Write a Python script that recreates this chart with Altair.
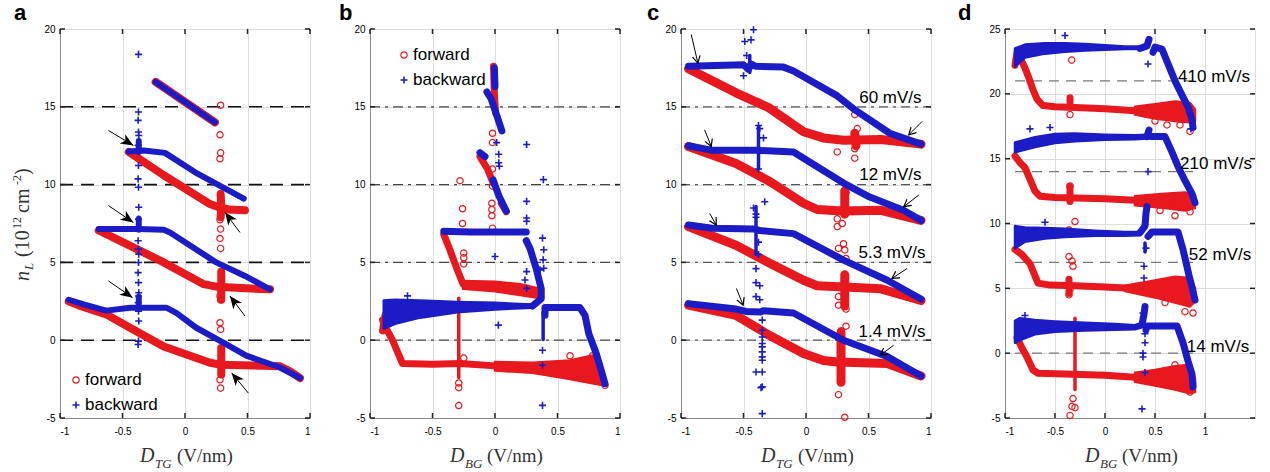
import math
import altair as alt
import pandas as pd

RED = "#e8191e"
BLUE = "#1c1cc6"
SERIF = "Liberation Serif"
SANS = "Liberation Sans"
W, H = 250, 389
PLUS = "M-1,0H1M0,-1V1"
HEAD_FILLED = "M0,0L-0.42,1L0,0.72L0.42,1Z"
HEAD_OPEN = "M-0.55,1L0,0L0.55,1"

X_TICKS = [-1, -0.5, 0, 0.5, 1]
Y_TICKS_ABC = [-5, 0, 5, 10, 15, 20]
Y_TICKS_D = [-5, 0, 5, 10, 15, 20, 25]

# ---------------- panel a ----------------
A_RED = {
    "top": [(-0.235, 16.6), (0.24, 14.0)],
    "l3": [(-0.45, 12.1), (-0.17, 10.6), (0.2, 8.75), (0.27, 8.55), (0.35, 8.4), (0.48, 8.35)],
    "l3s": [(0.285, 9.4), (0.29, 8.6), (0.285, 7.9)],
    "l2": [(-0.69, 7.05), (-0.6, 6.7), (-0.17, 5.0), (0.15, 3.6), (0.25, 3.44), (0.45, 3.35), (0.68, 3.27)],
    "l2s": [(0.29, 4.4), (0.29, 2.6)],
    "l1": [(-0.93, 2.5), (-0.85, 2.24), (-0.63, 1.66), (-0.44, 0.8), (-0.17, -0.4), (0.2, -1.45),
           (0.28, -1.57), (0.55, -1.62), (0.76, -1.68), (0.84, -2.0), (0.92, -2.43)],
    "l1s": [(0.29, -0.5), (0.29, -2.2)],
}
A_BLUE = {
    "top": [(-0.235, 16.6), (0.24, 14.0)],
    "l3": [(-0.45, 12.13), (-0.33, 12.19), (-0.16, 12.04), (0.1, 10.7), (0.47, 9.1)],
    "l3s": [(-0.37, 12.1), (-0.37, 12.8)],
    "l2": [(-0.69, 7.14), (-0.38, 7.14), (-0.17, 7.1), (-0.12, 6.92), (0.25, 5.0), (0.48, 4.13), (0.68, 3.27)],
    "l2s": [(-0.37, 7.1), (-0.37, 7.8)],
    "l1": [(-0.93, 2.6), (-0.81, 2.3), (-0.63, 1.9), (-0.44, 2.09), (-0.15, 2.09), (-0.07, 1.76),
           (0.09, 0.8), (0.31, -0.17), (0.49, -0.99), (0.75, -1.72), (0.92, -2.43)],
    "l1s": [(-0.37, 2.1), (-0.37, 2.8)],
}
A_RED_PTS = [(0.285, 15.1), (0.28, 13.2), (0.285, 12.04), (0.28, 11.66), (0.285, 8.0), (0.28, 7.74),
             (0.285, 7.14), (0.28, 6.54), (0.285, 5.9), (0.28, 2.84), (0.285, 2.6), (0.28, 1.12),
             (0.285, 0.69), (0.28, -2.54), (0.285, -3.08)]
A_BLUE_PTS = [(-0.372, 18.37), (-0.372, 14.67), (-0.375, 14.13), (-0.372, 13.38), (-0.37, 13.16),
              (-0.375, 12.52), (-0.372, 11.23), (-0.375, 10.37), (-0.372, 9.83), (-0.37, 8.54),
              (-0.372, 7.78), (-0.375, 6.39), (-0.372, 5.85), (-0.37, 5.53), (-0.372, 4.99),
              (-0.375, 4.34), (-0.372, 3.70), (-0.37, 3.05), (-0.372, 2.84), (-0.375, 2.41),
              (-0.372, 1.87), (-0.37, 1.23), (-0.372, -0.06), (-0.375, -0.28)]
A_ARROWS = [(-0.613, 13.48, -0.413, 12.52), (0.44, 6.92, 0.32, 8.22), (-0.613, 8.65, -0.413, 7.57),
            (0.48, 1.55, 0.36, 2.84), (-0.613, 3.81, -0.419, 2.73), (0.507, -3.4, 0.373, -2.1)]
A_HLINES = [15, 10, 5, 0]

# ---------------- panel b ----------------
B_RED = {
    "t1": [(-0.012, 17.6), (-0.008, 16.5), (-0.003, 15.5), (0.005, 14.6)],
    "m1": [(-0.12, 11.8), (-0.06, 11.0), (-0.015, 10.1)],
    "m2": [(0.05, 8.8), (0.09, 8.25)],
    "l2": [(-0.41, 6.8), (-0.37, 6.0), (-0.3, 4.5), (-0.255, 3.6)],
    "l1": [(-0.9, 1.3), (-0.86, 0.6), (-0.82, 0.0), (-0.74, -1.5), (-0.5, -1.55), (-0.28, -1.5),
           (0.0, -1.65), (0.3, -1.8)],
    "lc": [(-0.9, 0.6), (-0.88, 1.6)],
}
B_RED_THIN = {
    "s1": [(-0.29, 2.7), (-0.29, -2.4)],
}
B_RED_BANDS = {
    "l2": ([-0.255, 0.0, 0.2, 0.37], [3.3, 3.15, 2.9, 2.7], [3.8, 3.75, 3.6, 3.3]),
    "l1": ([0.0, 0.3, 0.6, 0.8, 0.87], [-1.95, -2.1, -2.5, -2.8, -2.9], [-1.4, -1.45, -1.3, -0.95, -2.2]),
}
B_RED_PTS = [(-0.28, 10.25), (-0.26, 8.45), (-0.26, 7.5), (-0.25, 5.6), (-0.25, 5.3), (-0.25, 4.9),
             (-0.02, 13.3), (-0.02, 12.7), (-0.02, 11.0), (-0.02, 9.9), (-0.025, 8.8), (-0.025, 8.4),
             (-0.025, 8.0), (-0.02, 7.2), (-0.29, -2.75), (-0.29, -3.05), (-0.29, -4.2),
             (0.6, -1.0), (0.78, -1.0), (-0.25, -1.15), (0.88, -2.9)]
B_BLUE = {
    "t1": [(-0.005, 17.5), (0.0, 16.3)],
    "t2": [(-0.065, 15.95), (-0.03, 15.5), (0.02, 14.3), (0.055, 13.45)],
    "m1": [(-0.12, 12.05), (-0.08, 11.8)],
    "m2": [(-0.015, 10.3), (0.03, 9.3), (0.09, 8.3)],
    "l2": [(-0.41, 7.0), (-0.2, 6.95), (0.0, 6.95), (0.25, 6.95)],
    "l2d": [(0.25, 6.4), (0.28, 5.9), (0.33, 4.6), (0.37, 3.3), (0.37, 2.7)],
    "l1e": [(0.3, 2.2), (0.36, 2.6)],
    "l1r": [(0.4, 1.6), (0.4, 2.1), (0.68, 2.1), (0.72, 1.6), (0.75, 0.43), (0.81, -0.86),
            (0.85, -1.94), (0.88, -2.8)],
}
B_BLUE_THIN = {
    "v1": [(0.385, 1.8), (0.385, 0.05)],
}
B_BLUE_BANDS = {
    "l1": ([-0.89, -0.8, -0.6, -0.3, 0.0, 0.3], [0.75, 1.05, 1.45, 1.8, 1.98, 2.08], [2.55, 2.6, 2.55, 2.45, 2.4, 2.3]),
}
B_BLUE_PTS = [(0.013, 12.7), (0.03, 11.95), (0.03, 11.4), (0.035, 11.18), (0.253, 12.58), (0.387, 10.32),
              (0.253, 8.92), (0.253, 7.85), (0.253, 7.64), (0.0, 5.38), (0.027, 0.97), (0.38, 6.56),
              (0.39, 5.81), (0.385, 5.16), (0.39, 4.62), (0.36, 4.52), (0.253, 4.41), (0.24, 3.87),
              (0.253, 3.33), (0.38, -0.65), (0.38, -1.61), (0.38, -4.19), (-0.7, 2.85)]
B_HLINES = [15, 10, 5, 0]

# ---------------- panel c ----------------
C_RED = {
    "r60": [(-0.94, 17.45), (-0.56, 15.9), (-0.3, 14.95), (-0.02, 13.4), (0.14, 13.0), (0.3, 12.85),
            (0.6, 12.9), (0.92, 12.6)],
    "r12": [(-0.94, 12.45), (-0.56, 11.35), (-0.29, 10.2), (-0.02, 8.8), (0.09, 8.4), (0.3, 8.3),
            (0.6, 8.35), (0.92, 7.7)],
    "r5": [(-0.94, 7.3), (-0.56, 6.1), (-0.29, 4.95), (-0.02, 3.85), (0.09, 3.5), (0.35, 3.4),
           (0.6, 3.3), (0.92, 2.55)],
    "r1": [(-0.94, 2.25), (-0.56, 1.6), (-0.29, 0.3), (-0.02, -0.85), (0.14, -1.3), (0.25, -1.4),
           (0.65, -1.5), (0.92, -2.3)],
    "s60": [(0.39, 13.3), (0.4, 12.5)],
    "s12": [(0.31, 9.6), (0.31, 8.1)],
    "s5": [(0.31, 4.2), (0.31, 2.2)],
    "s1": [(0.28, 0.5), (0.28, -2.7)],
}
C_RED_PTS = [(0.39, 14.5), (0.41, 13.6), (0.39, 12.3), (0.39, 11.7), (0.25, 12.1), (0.25, 7.8),
             (0.29, 7.5), (0.25, 7.3), (0.26, 5.9), (0.31, 5.8), (0.32, 5.25), (0.3, 6.2),
             (0.26, 2.8), (0.26, 2.25), (0.32, 2.0), (0.32, 0.9), (0.28, 0.6), (0.26, -3.5),
             (0.31, -4.95), (0.32, 9.5)]
C_BLUE = {
    "b60": [(-0.94, 17.6), (-0.5, 17.7), (-0.46, 17.4), (-0.44, 17.75), (-0.4, 17.6), (-0.18, 17.55),
            (-0.1, 17.3), (0.25, 15.7), (0.4, 14.75), (0.67, 13.3), (0.92, 12.6)],
    "b12": [(-0.94, 12.5), (-0.75, 12.2), (-0.4, 12.2), (-0.1, 12.1), (0.3, 10.1), (0.51, 9.2),
            (0.78, 8.35), (0.92, 7.7)],
    "b5": [(-0.94, 7.4), (-0.75, 7.2), (-0.42, 7.15), (-0.37, 7.05), (-0.1, 6.85), (0.3, 5.15),
           (0.65, 3.85), (0.92, 2.65)],
    "b1": [(-0.94, 2.35), (-0.56, 2.0), (-0.48, 1.85), (-0.36, 1.82), (-0.34, 1.9), (-0.1, 1.75),
           (0.3, 0.0), (0.65, -1.05), (0.92, -2.3)],
}
C_BLUE_THIN = {
    "s60": [(-0.45, 17.2), (-0.45, 18.3)],
    "s12": [(-0.38, 11.0), (-0.38, 13.7)],
    "s5": [(-0.4, 5.5), (-0.4, 8.6)],
}
C_BLUE_PTS = [(-0.49, 19.2), (-0.44, 19.3), (-0.42, 19.95), (-0.475, 18.3), (-0.5, 17.0),
              (-0.38, 13.8), (-0.37, 13.6), (-0.34, 13.0), (-0.38, 11.0),
              (-0.42, 8.5), (-0.4, 8.1), (-0.33, 8.9), (-0.4, 7.9), (-0.38, 6.3), (-0.38, 5.5),
              (-0.4, 4.6), (-0.4, 3.7), (-0.37, 3.5), (-0.4, 2.8), (-0.37, 2.6),
              (-0.35, 1.29), (-0.35, 0.64), (-0.35, 0.21), (-0.35, -0.21), (-0.35, -0.43),
              (-0.35, -0.75), (-0.35, -1.07), (-0.35, -1.29), (-0.35, -2.04), (-0.4, -2.04),
              (-0.35, -3.0), (-0.36, -3.05), (-0.35, -4.72)]
C_ARROWS = [(-0.918, 19.64, -0.865, 17.81), (-0.811, 13.52, -0.758, 12.45), (-0.771, 8.15, -0.718, 7.4),
            (-0.557, 3.33, -0.503, 2.25), (0.929, 14.06, 0.822, 13.2), (0.902, 9.33, 0.782, 8.58),
            (0.809, 4.61, 0.688, 3.97), (0.701, -0.32, 0.594, -0.97)]
C_LABELS = ["60 mV/s", "12 mV/s", "5.3 mV/s", "1.4 mV/s"]
C_LABEL_X = [0.675, 0.675, 0.688, 0.688]
C_LABEL_Y = [15.56, 10.62, 5.58, 0.54]
C_HLINES = [15, 10, 5, 0]

# ---------------- panel d ----------------
D_RED = {
    "r410": [(-0.85, 22.8), (-0.8, 22.0), (-0.76, 21.2), (-0.72, 20.3), (-0.68, 19.6), (-0.62, 19.1),
             (-0.5, 19.0), (-0.3, 18.95), (0.0, 18.85), (0.3, 18.7)],
    "c410": [(-0.9, 22.2), (-0.88, 23.2)],
    "r210": [(-0.9, 15.2), (-0.85, 14.7), (-0.8, 14.3), (-0.7, 12.5), (-0.65, 12.1), (-0.5, 12.0),
             (0.0, 11.9), (0.3, 11.8)],
    "r52": [(-0.9, 8.0), (-0.83, 7.6), (-0.75, 6.9), (-0.67, 5.4), (-0.55, 5.25), (-0.3, 5.2),
            (0.0, 5.1), (0.25, 5.0)],
    "r14": [(-0.88, 1.2), (-0.83, 0.4), (-0.78, -0.3), (-0.72, -1.3), (-0.67, -1.55), (-0.4, -1.6),
            (0.0, -1.7), (0.3, -1.85)],
    "s410": [(-0.35, 19.7), (-0.35, 19.2)],
    "s210": [(-0.35, 12.85), (-0.35, 11.7)],
    "s52": [(-0.36, 5.7), (-0.36, 4.6)],
}
D_RED_THIN = {
    "s14": [(-0.3, 2.7), (-0.3, -2.8)],
}
D_RED_BANDS = {
    "r410": ([0.3, 0.5, 0.7, 0.85, 0.9], [18.4, 18.1, 17.9, 17.8, 17.9], [19.0, 19.2, 19.4, 19.3, 18.8]),
    "r210": ([0.3, 0.6, 0.8, 0.9], [11.4, 11.2, 11.0, 11.2], [12.1, 12.3, 12.4, 12.2]),
    "r52": ([0.2, 0.5, 0.7, 0.85, 0.9], [4.8, 4.3, 3.9, 3.6, 4.0], [5.2, 5.6, 5.9, 5.8, 5.0]),
    "r14": ([0.3, 0.5, 0.7, 0.85, 0.9], [-2.2, -2.5, -2.8, -3.1, -3.0], [-1.5, -1.3, -1.0, -0.9, -2.0]),
}
D_RED_PTS = [(-0.333, 22.6), (-0.35, 18.4), (-0.35, 12.9), (-0.3, 10.15), (-0.36, 9.5), (-0.36, 7.45),
             (-0.33, 7.1), (-0.32, 6.7), (-0.35, 4.9), (-0.36, 4.5), (-0.32, -3.5), (-0.33, -4.1),
             (-0.35, -4.8), (-0.3, -4.2), (0.5, 17.9), (0.62, 17.6), (0.75, 17.6), (0.85, 17.1),
             (0.55, 11.0), (0.7, 10.6), (0.85, 10.9), (0.6, 3.9), (0.8, 3.2), (0.88, 3.1),
             (0.7, -0.9), (0.85, -3.0), (-0.85, 23.0)]
D_BLUE = {
    "h410": [(0.35, 23.5), (0.42, 23.7), (0.44, 24.2)],
    "d410": [(0.48, 23.2), (0.5, 23.6), (0.57, 23.45), (0.62, 22.5), (0.7, 21.0), (0.77, 19.9),
             (0.83, 19.0), (0.87, 18.0), (0.88, 17.4)],
    "h210": [(0.42, 16.7), (0.44, 17.2)],
    "d210": [(0.46, 16.7), (0.6, 16.7), (0.67, 15.5), (0.73, 14.4), (0.8, 13.3), (0.87, 12.3), (0.9, 11.6)],
    "h52": [(0.35, 9.3), (0.4, 9.8), (0.41, 10.8), (0.42, 11.3)],
    "d52": [(0.43, 9.0), (0.47, 9.35), (0.73, 9.35), (0.78, 8.0), (0.84, 6.0), (0.87, 5.1), (0.9, 4.1)],
    "h14": [(0.37, 2.2), (0.39, 3.0), (0.4, 3.6)],
    "d14": [(0.41, 1.8), (0.42, 2.1), (0.72, 2.1), (0.78, 0.8), (0.83, -0.6), (0.87, -1.6), (0.88, -2.6)],
}
D_BLUE_THIN = {
    "v52": [(0.4, 8.5), (0.4, 7.8)],
}
D_BLUE_BANDS = {
    "b410": ([-0.9, -0.8, -0.6, -0.4, -0.2, 0.0, 0.2, 0.35], [22.1, 22.8, 23.1, 23.25, 23.35, 23.4, 23.45, 23.45],
             [23.5, 23.8, 23.9, 23.9, 23.85, 23.75, 23.65, 23.65]),
    "b210": ([-0.9, -0.7, -0.5, -0.3, 0.0, 0.3, 0.42], [15.5, 15.9, 16.2, 16.35, 16.45, 16.5, 16.55],
             [16.25, 16.65, 16.9, 16.95, 16.85, 16.8, 16.85]),
    "b52": ([-0.9, -0.8, -0.6, -0.4, -0.1, 0.2, 0.35], [8.1, 8.6, 8.85, 8.95, 9.05, 9.05, 9.1],
            [9.8, 9.7, 9.65, 9.6, 9.45, 9.35, 9.35]),
    "b14": ([-0.9, -0.85, -0.7, -0.5, -0.2, 0.1, 0.3, 0.37], [0.8, 1.0, 1.45, 1.65, 1.75, 1.8, 1.85, 2.0],
            [2.5, 2.7, 2.55, 2.45, 2.35, 2.25, 2.15, 2.35]),
}
D_BLUE_PTS = [(-0.4, 24.5), (0.43, 22.3), (0.43, 14.0), (0.41, 8.1), (0.39, 6.7), (0.39, 5.8),
              (0.38, 3.1), (0.4, 1.5), (0.4, 0.8), (0.38, 0.0), (0.38, -0.3), (0.4, -1.5),
              (0.37, -4.3), (0.86, 17.3), (-0.75, 17.3), (-0.55, 17.4), (-0.6, 10.1), (-0.8, 2.9)]
D_LABELS = ["410 mV/s", "210 mV/s", "52 mV/s", "14 mV/s"]
D_LABEL_X = [1.09, 1.11, 1.15, 1.13]
D_LABEL_Y = [21.3, 14.6, 7.57, 0.5]
D_HLINES = [21, 14, 7, 0]


def seg_df(curves):
    rows = []
    for name, pts in curves.items():
        for i, (x, y) in enumerate(pts):
            rows.append({"seg": name, "i": i, "x": x, "y": y})
    return pd.DataFrame(rows)


def band_df(bands):
    rows = []
    for name, (bx, lo, hi) in bands.items():
        for i in range(len(bx)):
            rows.append({"seg": name, "x": bx[i], "lo": lo[i], "hi": hi[i]})
    return pd.DataFrame(rows)


def ftext(text, x, y, **style):
    return alt.Chart(pd.DataFrame({"t": [text]})).mark_text(**style).encode(
        text="t:N", x=alt.value(x), y=alt.value(y))


def build_panel(spec):
    xs = alt.Scale(domain=spec["xdom"], nice=False, zero=False)
    ys = alt.Scale(domain=spec["ydom"], nice=False, zero=False)
    xax = alt.Axis(values=X_TICKS, labelExpr="'' + datum.value", title=None, labelPadding=8, tickSize=0)
    yax = alt.Axis(values=spec["yticks"], labelExpr="'' + datum.value", title=None, labelPadding=5, tickSize=0)

    def X(f="x"):
        return alt.X(f"{f}:Q", scale=xs, axis=xax)

    def Y(f="y"):
        return alt.Y(f"{f}:Q", scale=ys, axis=yax, stack=None)

    layers = []
    hl = spec["hlines"]
    if spec.get("hx"):
        hdf = pd.DataFrame({"y": hl, "x1": [spec["hx"][0]] * len(hl), "x2": [spec["hx"][1]] * len(hl)})
        layers.append(alt.Chart(hdf).mark_rule(**spec["hstyle"]).encode(x=X("x1"), x2="x2:Q", y=Y()))
    else:
        hdf = pd.DataFrame({"y": hl})
        layers.append(alt.Chart(hdf).mark_rule(**spec["hstyle"]).encode(
            y=Y(), x=alt.value(0), x2=alt.value(W)))

    for color, bands, lines, thin, pts, lw, kind in [
        (RED, spec.get("red_bands"), spec["red"], spec.get("red_thin"), spec["red_pts"], spec["rw"], "circle"),
        (BLUE, spec.get("blue_bands"), spec["blue"], spec.get("blue_thin"), spec["blue_pts"], spec["bw"], "plus"),
    ]:
        if bands:
            layers.append(alt.Chart(band_df(bands)).mark_area(
                fill=color, stroke=color, strokeWidth=2.5, strokeJoin="round", opacity=1).encode(
                x=X(), y=Y("lo"), y2="hi:Q", detail="seg:N"))
        layers.append(alt.Chart(seg_df(lines)).mark_line(
            color=color, strokeWidth=lw, strokeCap="round", strokeJoin="round").encode(
            x=X(), y=Y(), detail="seg:N", order="i:Q"))
        if thin:
            layers.append(alt.Chart(seg_df(thin)).mark_line(
                color=color, strokeWidth=3.5, strokeCap="round", strokeJoin="round").encode(
                x=X(), y=Y(), detail="seg:N", order="i:Q"))
        pdf = pd.DataFrame(pts, columns=["x", "y"])
        if kind == "circle":
            m = alt.Chart(pdf).mark_point(shape="circle", filled=False, color=color, size=40,
                                          strokeWidth=1.2, opacity=1)
        else:
            m = alt.Chart(pdf).mark_point(shape=PLUS, filled=False, color=color, size=50,
                                          strokeWidth=1.6, opacity=1)
        layers.append(m.encode(x=X(), y=Y()))

    if spec.get("arrows"):
        xr = spec["xdom"][1] - spec["xdom"][0]
        yr = spec["ydom"][1] - spec["ydom"][0]
        rows = []
        for (x1, y1, x2, y2) in spec["arrows"]:
            dxp = (x2 - x1) * W / xr
            dyp = -(y2 - y1) * H / yr
            ang = math.degrees(math.atan2(dxp, -dyp)) % 360
            rows.append({"x1": x1, "y1": y1, "x2": x2, "y2": y2, "ang": ang})
        adf = pd.DataFrame(rows)
        layers.append(alt.Chart(adf).mark_rule(color="black", strokeWidth=1).encode(
            x=X("x1"), y=Y("y1"), x2="x2:Q", y2="y2:Q"))
        if spec["arrow_kind"] == "filled":
            head = alt.Chart(adf).mark_point(shape=HEAD_FILLED, filled=True, color="black",
                                             size=650, opacity=1)
        else:
            head = alt.Chart(adf).mark_point(shape=HEAD_OPEN, filled=False, color="black",
                                             size=200, strokeWidth=1.2, opacity=1)
        layers.append(head.encode(x=X("x2"), y=Y("y2"), angle=alt.Angle("ang:Q", scale=None)))

    if spec.get("labels"):
        ldf = pd.DataFrame({"t": spec["labels"][0], "x": spec["labels"][1], "y": spec["labels"][2]})
        layers.append(alt.Chart(ldf).mark_text(font=SANS, fontSize=17, color="black").encode(
            x=X(), y=Y(), text="t:N"))

    # inward ticks on all four sides
    tx = pd.DataFrame({"v": X_TICKS})
    ty = pd.DataFrame({"v": spec["yticks"]})
    tstyle = dict(color="#222", strokeWidth=1.5)
    layers += [
        alt.Chart(tx).mark_rule(**tstyle).encode(x=X("v"), y=alt.value(H), y2=alt.value(H - 5)),
        alt.Chart(tx).mark_rule(**tstyle).encode(x=X("v"), y=alt.value(0), y2=alt.value(5)),
        alt.Chart(ty).mark_rule(**tstyle).encode(y=Y("v"), x=alt.value(0), x2=alt.value(5)),
        alt.Chart(ty).mark_rule(**tstyle).encode(y=Y("v"), x=alt.value(W), x2=alt.value(W - 5)),
    ]

    # legend
    if spec.get("legend"):
        lx, ly = spec["legend"]
        dummy = pd.DataFrame({"a": [0]})
        layers.append(alt.Chart(dummy).mark_point(shape="circle", filled=False, color=RED, size=40,
                                                  strokeWidth=1.2, opacity=1).encode(
            x=alt.value(lx), y=alt.value(ly)))
        layers.append(alt.Chart(dummy).mark_point(shape=PLUS, filled=False, color=BLUE, size=50,
                                                  strokeWidth=1.6, opacity=1).encode(
            x=alt.value(lx), y=alt.value(ly + 25)))
        layers.append(ftext("forward", lx + 9, ly, font=SANS, fontSize=17, align="left",
                            baseline="middle", color="black"))
        layers.append(ftext("backward", lx + 9, ly + 25, font=SANS, fontSize=17, align="left",
                            baseline="middle", color="black"))

    # x axis title: D_sub (V/nm)
    layers.append(ftext("D", 80, 433, font=SERIF, fontSize=20, fontStyle="italic", align="left",
                        baseline="alphabetic", color="#333"))
    layers.append(ftext(spec["sub"], 95, 439, font=SERIF, fontSize=13, fontStyle="italic", align="left",
                        baseline="alphabetic", color="#333"))
    layers.append(ftext("(V/nm)", 117, 433, font=SERIF, fontSize=19, align="left",
                        baseline="alphabetic", color="#333"))

    # panel letter
    layers.append(ftext(spec["letter"], spec["letter_x"], -9, font=SANS, fontSize=22, fontWeight="bold",
                        align="left", baseline="alphabetic", color="black"))

    if spec.get("ytitle"):
        st = dict(font=SERIF, angle=270, align="left", baseline="alphabetic", color="#333")
        layers.append(ftext("n", -31, 252, fontSize=20, fontStyle="italic", **st))
        layers.append(ftext("L", -27, 241, fontSize=13, fontStyle="italic", **st))
        layers.append(ftext("(10", -31, 228, fontSize=20, **st))
        layers.append(ftext("12", -39, 200, fontSize=12, **st))
        layers.append(ftext("cm", -31, 184, fontSize=20, **st))
        layers.append(ftext("-2", -39, 156, fontSize=12, **st))
        layers.append(ftext(")", -31, 146, fontSize=20, **st))

    return alt.layer(*layers).properties(width=W, height=H)


def spacer(w):
    return alt.Chart(pd.DataFrame({"a": [0]})).mark_point(opacity=0).encode(
        x=alt.value(0), y=alt.value(0)).properties(width=w, height=H, view=alt.ViewBackground(strokeOpacity=0))


dash_a = dict(color="#111", strokeWidth=1.6, strokeDash=[13, 8])
dash_b = dict(color="#444", strokeWidth=1.2, strokeDash=[10, 5, 3, 5])
dash_c = dict(color="#555", strokeWidth=1.2, strokeDash=[9, 5, 3, 5])
dash_d = dict(color="#777", strokeWidth=1.2, strokeDash=[10, 7])

pa = build_panel(dict(xdom=[-1, 1], ydom=[-5, 20], yticks=Y_TICKS_ABC, hlines=A_HLINES, hstyle=dash_a,
                      red=A_RED, blue=A_BLUE, red_pts=A_RED_PTS, blue_pts=A_BLUE_PTS, rw=8, bw=6,
                      arrows=A_ARROWS, arrow_kind="filled", legend=(16, 351), sub="TG",
                      letter="a", letter_x=-46, ytitle=True))
pb = build_panel(dict(xdom=[-1, 1], ydom=[-5, 20], yticks=Y_TICKS_ABC, hlines=B_HLINES, hstyle=dash_b,
                      red=B_RED, blue=B_BLUE, red_thin=B_RED_THIN, blue_thin=B_BLUE_THIN,
                      red_bands=B_RED_BANDS, blue_bands=B_BLUE_BANDS,
                      red_pts=B_RED_PTS, blue_pts=B_BLUE_PTS, rw=7, bw=7, legend=(34, 26), sub="BG",
                      letter="b", letter_x=-31))
pc = build_panel(dict(xdom=[-1, 1], ydom=[-5, 20], yticks=Y_TICKS_ABC, hlines=C_HLINES, hstyle=dash_c,
                      red=C_RED, blue=C_BLUE, blue_thin=C_BLUE_THIN,
                      red_pts=C_RED_PTS, blue_pts=C_BLUE_PTS, rw=9, bw=7,
                      arrows=C_ARROWS, arrow_kind="open", labels=(C_LABELS, C_LABEL_X, C_LABEL_Y),
                      sub="TG", letter="c", letter_x=-34))
pdd = build_panel(dict(xdom=[-1, 1.5], ydom=[-5, 25], yticks=Y_TICKS_D, hlines=D_HLINES, hstyle=dash_d,
                       hx=(-0.9, 0.88), red=D_RED, blue=D_BLUE, red_thin=D_RED_THIN, blue_thin=D_BLUE_THIN,
                       red_bands=D_RED_BANDS, blue_bands=D_BLUE_BANDS,
                       red_pts=D_RED_PTS, blue_pts=D_BLUE_PTS, rw=7, bw=7,
                       labels=(D_LABELS, D_LABEL_X, D_LABEL_Y), sub="BG", letter="d", letter_x=-47))

chart = alt.hconcat(pa, spacer(50), pb, spacer(51), pc, spacer(64), pdd, spacing=5, bounds="flush").properties(
    padding={"left": 10, "top": 1, "right": 4, "bottom": 0}
).configure_view(stroke="#262626", strokeWidth=2.2).configure_axis(
    domain=False, ticks=False, grid=False, labelFont=SERIF, labelFontSize=15, labelColor="#444",
    labelFlush=False, labelOverlap=False
).configure(background="white")

chart.save("out.html", embed_options={"renderer": "svg", "actions": False})
